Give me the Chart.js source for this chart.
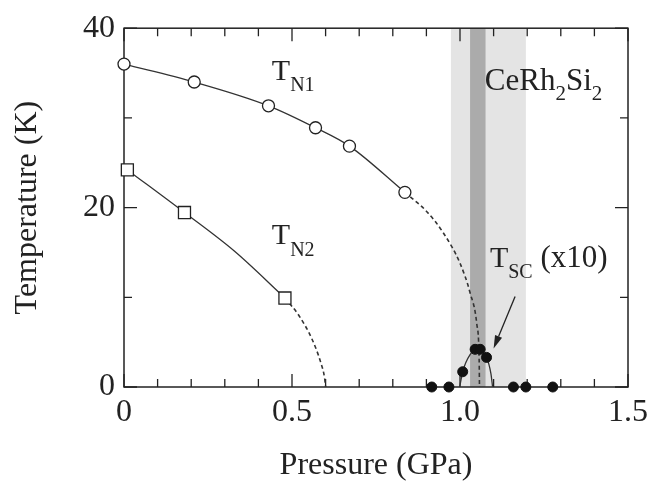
<!DOCTYPE html>
<html>
<head>
<meta charset="utf-8">
<script src="https://cdn.jsdelivr.net/npm/chart.js@4.4.1/dist/chart.umd.min.js"></script>
<style>
  html, body { margin: 0; padding: 0; background: #fff; }
  canvas { display: block; }
</style>
</head>
<body>
<canvas id="phase" width="662" height="483"></canvas>
<script>
// T_N1 (open circles), pressure in GPa and temperature in K
const tn1P = [0, 0.209, 0.43, 0.57, 0.671, 0.836];
const tn1T = [36.0, 34.0, 31.35, 28.9, 26.85, 21.7];
// extrapolated part of T_N1 (dashed)
const tn1DashP = [0.836, 0.9, 0.95, 1.0, 1.03, 1.05, 1.057, 1.058];
const tn1DashT = [21.7, 19.6, 17.2, 13.8, 10.5, 7.0, 3.0, 0];

// T_N2 (open squares)
const tn2P = [0.01, 0.18, 0.479];
const tn2T = [24.2, 19.45, 9.92];
const tn2LineP = [0.01, 0.18, 0.33, 0.479];
const tn2LineT = [24.2, 19.45, 15.1, 9.92];
const tn2DashP = [0.479, 0.52, 0.56, 0.585, 0.597, 0.60];
const tn2DashT = [9.92, 8.0, 5.3, 2.8, 1.0, 0];

// T_SC x10 (filled circles) and the guide curve through the dome
const tscP = [0.916, 0.967, 1.008, 1.045, 1.060, 1.079, 1.159, 1.196, 1.276];
const tscT = [0, 0, 1.7, 4.2, 4.2, 3.3, 0, 0, 0];
const tscLineP = [0.999, 1.008, 1.03, 1.052, 1.079, 1.092, 1.097];
const tscLineT = [0, 1.7, 3.6, 4.2, 3.3, 1.5, 0];

// shaded pressure ranges
const lightBand = [0.973, 1.196];
const darkBand = [1.030, 1.076];

const xTickLabels = ['0', '0.5', '1.0', '1.5'];
const yTickLabels = ['0', '20', '40'];

const SERIF = "'Liberation Serif', 'Times New Roman', serif";
const INK = '#222';

function pts(px, ty) {
  return px.map((p, i) => ({x: p, y: ty[i]}));
}

function lineSet(px, ty, dashed) {
  return {
    data: pts(px, ty),
    showLine: true,
    pointRadius: 0,
    borderColor: '#333',
    borderWidth: dashed ? 1.6 : 1.3,
    borderDash: dashed ? [4, 3] : [],
    cubicInterpolationMode: 'monotone',
    order: 5
  };
}

// text with subscripts; each part is [text, size, baseline shift]
function drawParts(ctx, x, y, parts) {
  let cx = x;
  parts.forEach(([t, size, dy]) => {
    ctx.font = size + 'px ' + SERIF;
    ctx.fillText(t, cx, y + dy);
    cx += ctx.measureText(t).width;
  });
}

const decor = {
  id: 'decor',
  beforeDatasetsDraw(chart) {
    const {ctx, chartArea: a, scales: {x, y}} = chart;
    ctx.save();
    // pressure bands
    const l0 = x.getPixelForValue(lightBand[0]), l1 = x.getPixelForValue(lightBand[1]);
    ctx.fillStyle = '#e4e4e4';
    ctx.fillRect(l0, a.top, l1 - l0, a.bottom - a.top);
    const d0 = x.getPixelForValue(darkBand[0]), d1 = x.getPixelForValue(darkBand[1]);
    ctx.fillStyle = '#ababab';
    ctx.fillRect(d0, a.top, d1 - d0, a.bottom - a.top);

    // frame
    ctx.strokeStyle = INK;
    ctx.lineWidth = 1.5;
    ctx.strokeRect(a.left, a.top, a.right - a.left, a.bottom - a.top);

    // inward ticks on all four sides
    ctx.lineWidth = 1.3;
    ctx.beginPath();
    for (let i = 0; i <= 15; i++) {
      const px = x.getPixelForValue(i / 10);
      const len = i % 5 === 0 ? 13 : 8;
      ctx.moveTo(px, a.bottom); ctx.lineTo(px, a.bottom - len);
      ctx.moveTo(px, a.top); ctx.lineTo(px, a.top + len);
    }
    for (let v = 0; v <= 40; v += 10) {
      const py = y.getPixelForValue(v);
      const len = v % 20 === 0 ? 13 : 8;
      ctx.moveTo(a.left, py); ctx.lineTo(a.left + len, py);
      ctx.moveTo(a.right, py); ctx.lineTo(a.right - len, py);
    }
    ctx.stroke();
    ctx.restore();
  },
  afterDatasetsDraw(chart) {
    const {ctx, scales: {x, y}} = chart;
    ctx.save();
    ctx.fillStyle = INK;
    ctx.strokeStyle = INK;
    ctx.textBaseline = 'alphabetic';
    ctx.textAlign = 'left';

    drawParts(ctx, x.getPixelForValue(0.44), y.getPixelForValue(34.2),
      [['T', 30, 0], ['N1', 20, 11]]);
    drawParts(ctx, x.getPixelForValue(0.44), y.getPixelForValue(15.9),
      [['T', 30, 0], ['N2', 20, 12]]);
    drawParts(ctx, x.getPixelForValue(1.089), y.getPixelForValue(13.4),
      [['T', 30, 0], ['SC', 20, 11], [' (x10)', 31, 0]]);
    drawParts(ctx, x.getPixelForValue(1.074), y.getPixelForValue(33.1),
      [['CeRh', 31, 0], ['2', 21, 10], ['Si', 31, 0], ['2', 21, 10]]);

    // arrow pointing at the T_SC dome
    const x0 = x.getPixelForValue(1.164), y0 = y.getPixelForValue(10.1);
    const x1 = x.getPixelForValue(1.100), y1 = y.getPixelForValue(4.3);
    const ang = Math.atan2(y1 - y0, x1 - x0);
    const head = 13, half = 3.8;
    ctx.lineWidth = 1.3;
    ctx.beginPath();
    ctx.moveTo(x0, y0);
    ctx.lineTo(x1 - Math.cos(ang) * head, y1 - Math.sin(ang) * head);
    ctx.stroke();
    ctx.beginPath();
    ctx.moveTo(x1, y1);
    ctx.lineTo(x1 - Math.cos(ang) * head + Math.sin(ang) * half, y1 - Math.sin(ang) * head - Math.cos(ang) * half);
    ctx.lineTo(x1 - Math.cos(ang) * head - Math.sin(ang) * half, y1 - Math.sin(ang) * head + Math.cos(ang) * half);
    ctx.closePath();
    ctx.fill();
    ctx.restore();
  }
};

const ctx = document.getElementById('phase').getContext('2d');

new Chart(ctx, {
  type: 'scatter',
  data: {
    datasets: [
      {
        data: pts(tscP, tscT),
        pointRadius: 5,
        pointBackgroundColor: '#111',
        pointBorderColor: '#111',
        pointBorderWidth: 1,
        clip: false,
        order: 1
      },
      {
        data: pts(tn1P, tn1T),
        pointRadius: 6,
        pointBackgroundColor: '#fff',
        pointBorderColor: INK,
        pointBorderWidth: 1.3,
        clip: false,
        order: 1
      },
      {
        data: pts(tn2P, tn2T),
        pointStyle: 'rect',
        pointRadius: 8.5,
        pointBackgroundColor: '#fff',
        pointBorderColor: INK,
        pointBorderWidth: 1.3,
        clip: false,
        order: 1
      },
      lineSet(tn1P, tn1T, false),
      lineSet(tn1DashP, tn1DashT, true),
      lineSet(tn2LineP, tn2LineT, false),
      lineSet(tn2DashP, tn2DashT, true),
      lineSet(tscLineP, tscLineT, false)
    ]
  },
  options: {
    responsive: false,
    animation: false,
    devicePixelRatio: 1,
    layout: { padding: { top: 23, right: 34, left: 0, bottom: 0 } },
    plugins: {
      legend: { display: false },
      tooltip: { enabled: false }
    },
    scales: {
      x: {
        type: 'linear',
        min: 0,
        max: 1.5,
        grid: { display: false, drawTicks: false },
        border: { display: false },
        ticks: {
          stepSize: 0.5,
          padding: 6,
          color: INK,
          maxRotation: 0,
          autoSkip: false,
          font: { family: SERIF, size: 32 },
          callback: (v, i) => xTickLabels[i]
        },
        title: {
          display: true,
          text: 'Pressure (GPa)',
          color: INK,
          font: { family: SERIF, size: 32, lineHeight: 1 },
          padding: { top: 0, bottom: 1 }
        },
        afterFit: s => { s.height = 96; }
      },
      y: {
        min: 0,
        max: 40,
        grid: { display: false, drawTicks: false },
        border: { display: false },
        ticks: {
          stepSize: 20,
          padding: 9,
          color: INK,
          font: { family: SERIF, size: 32 },
          callback: (v, i) => yTickLabels[i]
        },
        title: {
          display: true,
          text: 'Temperature (K)',
          color: INK,
          font: { family: SERIF, size: 32, lineHeight: 1 },
          padding: { top: 12, bottom: 0 }
        },
        afterFit: s => { s.width = 124; }
      }
    }
  },
  plugins: [decor]
});
</script>
</body>
</html>
